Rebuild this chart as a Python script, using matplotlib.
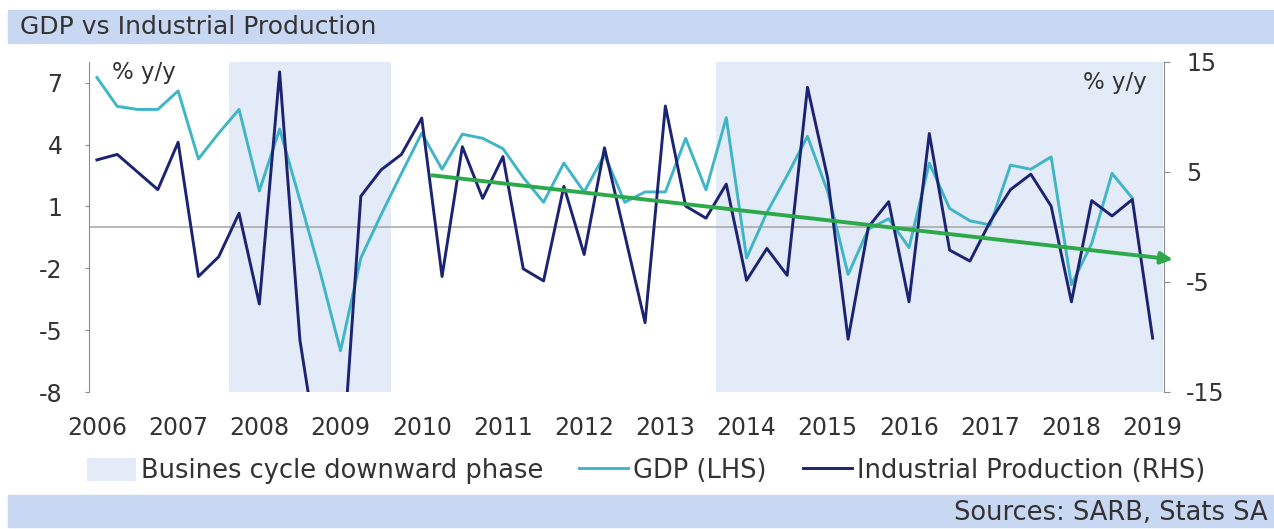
import matplotlib.pyplot as plt
from matplotlib.patches import Rectangle, Patch
from matplotlib.lines import Line2D
import numpy as np

plt.rcParams['font.family'] = ['DejaVu Sans']
plt.rcParams['axes.unicode_minus'] = False

# quarterly data, 2006Q1 onwards
years = [str(y) for y in range(2006, 2020)]
gdp = [7.25, 5.85, 5.7, 5.7, 6.6, 3.3, 4.55, 5.7, 1.75, 4.75, 1.3, -2.2, -6.0,
       -1.5, 0.6, 2.6, 4.55, 2.8, 4.5, 4.3, 3.8, 2.4, 1.2, 3.1, 1.7, 3.5, 1.2,
       1.7, 1.7, 4.3, 1.8, 5.3, -1.5, 0.7, 2.5, 4.4, 1.7, -2.3, -0.1, 0.4, -1.0,
       3.1, 0.9, 0.3, 0.1, 3.0, 2.8, 3.4, -2.8, -0.8, 2.6, 1.4]
ip = [6.1, 6.6, 5.0, 3.4, 7.7, -4.5, -2.7, 1.25, -7.0, 14.1, -10.3, -22.0, -24.0,
      2.8, 5.2, 6.6, 9.9, -4.5, 7.3, 2.6, 6.4, -3.8, -4.9, 3.7, -2.5, 7.2, -0.7,
      -8.7, 11.0, 1.9, 0.8, 3.9, -4.85, -1.95, -4.4, 12.7, 4.4, -10.2, 0.0, 2.3,
      -6.8, 8.5, -2.1, -3.1, 0.5, 3.4, 4.8, 1.9, -6.8, 2.4, 1.0, 2.5, -10.1]
# downward phases as (first quarter, last quarter) indices
downward = [(7, 14), (31, 52)]
# trend drawn on the RHS scale: (quarter index, value) at start and tip
trend_x = [16.5, 53.0]
trend_y = [4.7, -2.95]

band_col = '#E3EBF8'
bar_col = '#C8D7F2'
gdp_col = '#3FB5C5'
ip_col = '#1B2372'
trend_col = '#2DA84A'
txt_col = '#333333'
spine_col = '#8C8C8C'

W, H = 1274, 529
fig = plt.figure(figsize=(W / 100, H / 100), dpi=100)

# header and footer bars
fig.patches.append(Rectangle((8 / W, 1 - 43 / H), 1, 33 / H, transform=fig.transFigure,
                             color=bar_col, zorder=0))
fig.patches.append(Rectangle((8 / W, 1 - 527 / H), 1, 32 / H, transform=fig.transFigure,
                             color=bar_col, zorder=0))
fig.text(20 / W, 1 - 27 / H, 'GDP vs Industrial Production', fontsize=18,
         color=txt_col, va='center', ha='left')
fig.text(1268 / W, 1 - 513 / H, 'Sources: SARB, Stats SA', fontsize=18.5,
         color=txt_col, va='center', ha='right')

ax = fig.add_axes([89 / W, 1 - 392 / H, 1075 / W, 330 / H])
ax2 = ax.twinx()

x_gdp = np.arange(len(gdp))
x_ip = np.arange(len(ip))

for a, b in downward:
    ax.axvspan(a - 0.5, b + 0.5, color=band_col, lw=0, zorder=0)
ax.axhline(0, color='#ABABAB', lw=1.2, zorder=1)
ax.plot(x_gdp, gdp, color=gdp_col, lw=2.1, zorder=2)
ax2.plot(x_ip, ip, color=ip_col, lw=2.1, zorder=3)
ax2.annotate('', xy=(trend_x[1], trend_y[1]), xytext=(trend_x[0], trend_y[0]),
             arrowprops=dict(arrowstyle='-|>,head_length=0.7,head_width=0.35',
                             color=trend_col, lw=2.8, shrinkA=0, shrinkB=0),
             annotation_clip=False, zorder=5)

ax.set_xlim(-0.39, 52.56)
ax.set_ylim(-8, 8)
ax2.set_ylim(-15, 15)
ax.set_yticks([-8, -5, -2, 1, 4, 7])
ax2.set_yticks([-15, -5, 5, 15])
ax.set_xticks(np.arange(0, len(ip), 4))
ax.set_xticklabels(years)

for s in ['top', 'right', 'bottom']:
    ax.spines[s].set_visible(False)
for s in ['top', 'left', 'bottom']:
    ax2.spines[s].set_visible(False)
ax.spines['left'].set_color(spine_col)
ax2.spines['right'].set_color(spine_col)

ax.tick_params(axis='x', length=0, pad=17, labelsize=17, labelcolor=txt_col)
ax.tick_params(axis='y', length=3, color=spine_col, pad=16, labelsize=17,
               labelcolor=txt_col)
ax2.tick_params(axis='y', length=4, color=spine_col, pad=12, labelsize=17,
                labelcolor=txt_col)

ax.text(0.0214, 0.967, '% y/y', transform=ax.transAxes, fontsize=16.5,
        color=txt_col, va='center', ha='left')
ax2.text(0.984, 0.939, '% y/y', transform=ax2.transAxes, fontsize=16.5,
         color=txt_col, va='center', ha='right')

handles = [Patch(color=band_col, lw=0),
           Line2D([], [], color=gdp_col, lw=2.1),
           Line2D([], [], color=ip_col, lw=2.1)]
labels = ['Busines cycle downward phase', 'GDP (LHS)', 'Industrial Production (RHS)']
fig.legend(handles, labels, loc='center', bbox_to_anchor=(646 / W, 1 - 471 / H),
           ncol=3, frameon=False, fontsize=18.5, handlelength=1.9, handleheight=1.0,
           handletextpad=0.2, columnspacing=1.4, labelcolor=txt_col)

fig.savefig('out.png', dpi=100, facecolor='white')
